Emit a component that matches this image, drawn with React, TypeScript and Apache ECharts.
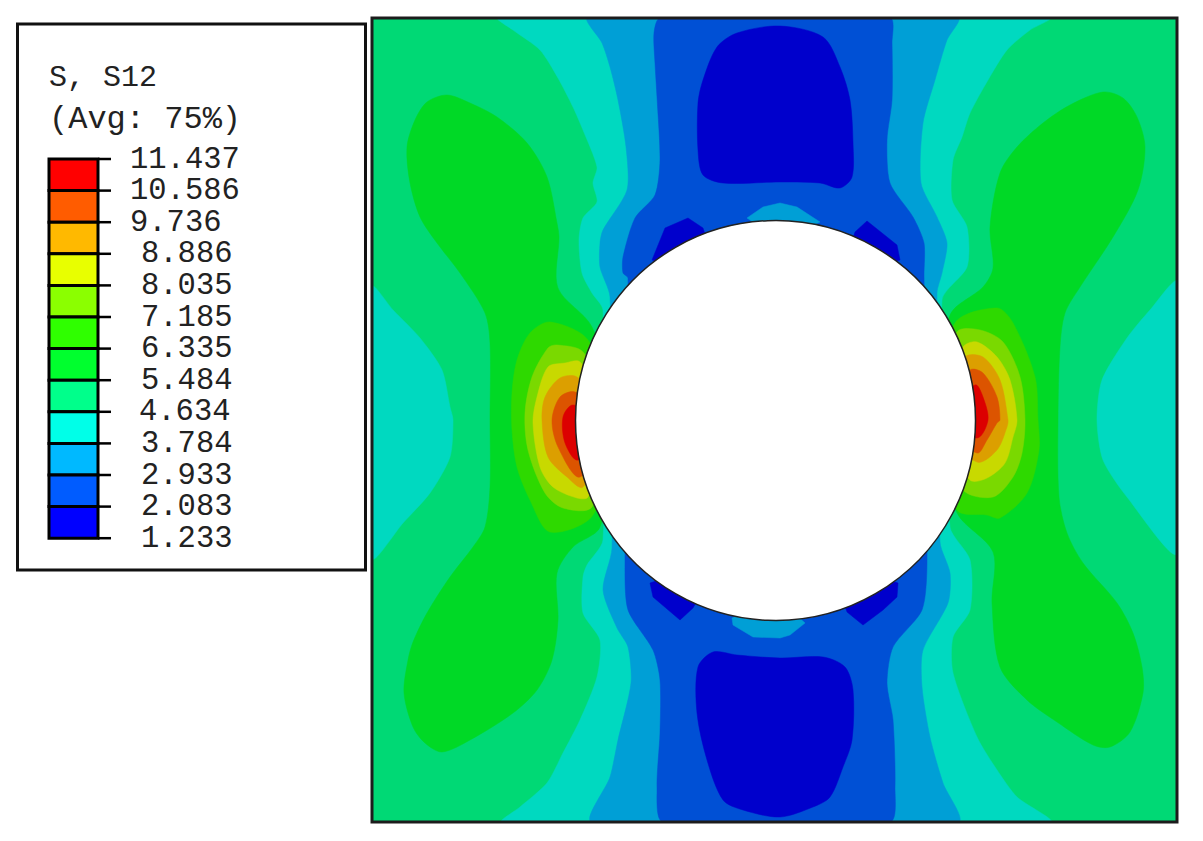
import React, { useEffect, useRef } from "react";
import * as echarts from "echarts";

const legendTitle = ["S, S12", "(Avg: 75%)"];
const legendValues = ["11.437", "10.586", "9.736", "8.886", "8.035", "7.185", "6.335", "5.484", "4.634", "3.784", "2.933", "2.083", "1.233"];
const legendColors = ["#ff0000", "#ff5c00", "#ffb900", "#e8ff00", "#8bff00", "#2fff00", "#00ff2e", "#00ff8b", "#00ffe8", "#00b9ff", "#005cff", "#0000ff"];

// Contour colours on the plate (level name -> fill)
const C = {
  c12: "#dc0000", c11: "#dc5400", c10: "#dc9f00", c9: "#c8d900", c8: "#7ad900", c7: "#2ed900",
  c6: "#00d926", c5: "#00d975", c4: "#00d9c0", c3: "#009fd6", c2: "#0050d5", c1: "#0000cc",
};

type P = number[][];

const plate: P = [[372, 18], [1177, 18], [1177, 822], [372, 822]];

const cyanBand: P = [[498, 18], [513, 30], [540, 50], [558, 78], [573, 107], [583, 130], [597, 167], [593, 183], [597, 202], [583, 218], [579, 240], [582, 273], [592, 293], [603, 310],
  [603, 540], [587, 565], [583, 577], [583, 613], [600, 640], [597, 677], [580, 720], [563, 753], [547, 783], [520, 807], [502, 822],
  [1050, 822], [1017, 797], [997, 770], [977, 737], [953, 673], [953, 637], [970, 610], [970, 560], [950, 527],
  [942, 300], [967, 267], [967, 227], [952, 200], [953, 160], [962, 137], [970, 113], [988, 80], [1007, 50], [1030, 30], [1050, 18]];
const cyanLeft: P = [[372, 287], [393, 310], [420, 338], [442, 370], [450, 407], [453, 420], [450, 457], [430, 493], [403, 523], [372, 558]];
const cyanRight: P = [[1177, 282], [1150, 310], [1127, 338], [1102, 380], [1097, 420], [1103, 460], [1127, 497], [1177, 553]];

const skyBand: P = [[588, 18], [602, 43], [610, 67], [618, 100], [626, 147], [627, 190], [603, 230], [600, 243], [600, 267], [610, 297],
  [612, 548], [603, 590], [617, 628], [628, 647], [631, 683], [618, 740], [610, 777], [592, 822],
  [958, 822], [943, 783], [930, 737], [922, 687], [923, 650], [948, 603], [950, 573], [940, 542],
  [937, 293], [942, 273], [947, 243], [937, 217], [921, 183], [923, 123], [935, 80], [947, 40], [958, 18]];
const skyTop: P = [[747, 218], [763, 207], [780, 203], [797, 207], [820, 222], [780, 240]];
const blueBand: P = [[660, 18], [654, 33], [655, 63], [657, 97], [660, 160], [655, 195], [635, 218], [623, 257], [623, 273], [628, 278],
  [625, 563], [628, 610], [653, 650], [660, 680], [660, 733], [657, 787], [663, 822],
  [890, 822], [895, 787], [893, 720], [887, 683], [893, 647], [922, 610], [927, 562],
  [924, 275], [924, 243], [913, 217], [890, 183], [887, 140], [892, 100], [892, 43], [890, 18]];
const skyBottom: P = [[732, 618], [733, 625], [753, 637], [780, 638], [790, 635], [805, 623], [780, 600]];

const deepTop: P = [[780, 26], [737, 33], [717, 47], [703, 80], [698, 103], [698, 150], [703, 175], [723, 183], [780, 182], [820, 183], [840, 188], [852, 177], [853, 143], [850, 100], [840, 67], [823, 37]];
const deepBottom: P = [[780, 658], [737, 655], [713, 652], [698, 667], [697, 713], [707, 760], [723, 800], [743, 810], [780, 817], [813, 807], [830, 797], [843, 767], [852, 740], [853, 690], [845, 667], [823, 657]];
const deepTL: P = [[652, 260], [665, 228], [688, 218], [703, 228], [720, 280]];
const deepTR: P = [[855, 232], [867, 221], [897, 245], [900, 260], [840, 280]];
const deepBL: P = [[650, 583], [653, 597], [680, 620], [693, 608], [720, 560]];
const deepBR: P = [[847, 612], [863, 625], [883, 610], [897, 597], [898, 583], [830, 560]];

const greenLeft: P = [[447, 95], [427, 102], [415, 120], [407, 147], [410, 183], [420, 217], [437, 243], [460, 273], [485, 313], [490, 343], [490, 420], [490, 487], [485, 527], [473, 547], [450, 577], [427, 613], [413, 642], [408, 660], [404, 693], [413, 727], [425, 743], [442, 752], [470, 740], [513, 713], [537, 690], [552, 660], [558, 620], [557, 573], [573, 547], [600, 527],
  [620, 420], [592, 327], [558, 288], [559, 237], [557, 223], [547, 177], [527, 143], [497, 117], [470, 103]];
const greenRight: P = [[1103, 92], [1123, 98], [1137, 117], [1145, 147], [1138, 190], [1113, 237], [1080, 287], [1065, 313], [1060, 347], [1058, 420], [1059, 497], [1067, 533], [1083, 563], [1117, 603], [1133, 633], [1142, 667], [1143, 693], [1130, 732], [1110, 747], [1093, 745], [1057, 722], [1027, 700], [1000, 667], [992, 603], [993, 552], [957, 513],
  [930, 420], [950, 315], [983, 287], [993, 268], [990, 227], [1000, 173], [1017, 147], [1043, 123], [1070, 105]];

const hotL7: P = [[550, 322], [530, 333], [517, 360], [512, 393], [512, 430], [517, 467], [530, 500], [550, 532], [593, 515], [620, 420], [588, 340]];
const hotL8: P = [[557, 345], [548, 348], [532, 377], [525, 413], [528, 450], [545, 493], [563, 508], [592, 507], [620, 420], [583, 352]];
const hotL9: P = [[580, 362], [565, 363], [548, 367], [537, 397], [533, 423], [540, 467], [553, 487], [577, 498], [588, 497], [620, 420]];
const hotL10: P = [[577, 377], [560, 378], [545, 397], [542, 420], [548, 457], [567, 477], [583, 487], [620, 420]];
const hotL11: P = [[575, 392], [560, 397], [552, 420], [558, 447], [580, 477], [620, 420]];
const hotL12: P = [[573, 405], [563, 417], [565, 443], [578, 460], [620, 420]];

const hotR7: P = [[955, 323], [997, 308], [1013, 323], [1035, 377], [1038, 420], [1039, 450], [1027, 493], [1000, 518], [987, 515], [957, 510], [930, 420]];
const hotR8: P = [[957, 332], [980, 330], [1003, 342], [1020, 377], [1025, 420], [1022, 453], [1013, 477], [993, 497], [963, 490], [930, 420]];
const hotR9: P = [[963, 347], [977, 342], [997, 357], [1010, 380], [1017, 420], [1013, 437], [1005, 463], [987, 478], [970, 480], [930, 420]];
const hotR10: P = [[965, 357], [983, 357], [1000, 380], [1008, 420], [1007, 427], [997, 450], [977, 462], [930, 420]];
const hotR11: P = [[970, 370], [983, 373], [997, 397], [1000, 420], [997, 423], [987, 440], [977, 453], [930, 420]];
const hotR12: P = [[975, 385], [983, 397], [988, 420], [977, 438], [930, 420]];

const hole = { cx: 775.5, cy: 420.5, r: 200 };

// [outline, fill, corner rounding]
const regions: [P, string, number][] = [
  [plate, C.c5, 0],
  [cyanBand, C.c4, 0.25], [cyanLeft, C.c4, 0.25], [cyanRight, C.c4, 0.25],
  [skyBand, C.c3, 0.25],
  [blueBand, C.c2, 0.25],
  [skyTop, C.c3, 0], [skyBottom, C.c3, 0],
  [deepTop, C.c1, 0.3], [deepBottom, C.c1, 0.3], [deepTL, C.c1, 0], [deepTR, C.c1, 0], [deepBL, C.c1, 0], [deepBR, C.c1, 0],
  [greenLeft, C.c6, 0.3], [greenRight, C.c6, 0.3],
  [hotL7, C.c7, 0.3], [hotL8, C.c8, 0.3], [hotL9, C.c9, 0.3], [hotL10, C.c10, 0.3], [hotL11, C.c11, 0.3], [hotL12, C.c12, 0.3],
  [hotR7, C.c7, 0.3], [hotR8, C.c8, 0.3], [hotR9, C.c9, 0.3], [hotR10, C.c10, 0.3], [hotR11, C.c11, 0.3], [hotR12, C.c12, 0.3],
];

const FONT = '"Liberation Mono", "DejaVu Sans Mono", monospace';

function buildLegend() {
  const barX = 49, barW = 49, top = 159, step = 31.6, tickEnd = 111;
  const els: any[] = [
    { type: "rect", shape: { x: 17.5, y: 24, width: 348, height: 546 }, style: { fill: "#fff", stroke: "#111", lineWidth: 3 } },
  ];
  legendTitle.forEach((t, i) => {
    els.push({ type: "text", x: 49, y: 78 + i * 41, style: { text: t, font: `${i === 0 ? 30 : 32}px ${FONT}`, fill: "#222", textVerticalAlign: "middle", textAlign: "left" } });
  });
  legendColors.forEach((c, i) => {
    els.push({ type: "rect", shape: { x: barX, y: top + i * step, width: barW, height: step }, style: { fill: c, stroke: "#000", lineWidth: 3 } });
  });
  legendValues.forEach((v, i) => {
    const y = top + i * step;
    els.push({ type: "line", shape: { x1: barX + barW, y1: y, x2: tickEnd, y2: y }, style: { stroke: "#000", lineWidth: 2.5 } });
    const x = i < 3 ? 130 : v === "4.634" ? 139 : 141;
    els.push({ type: "text", x, y: y + 0.5, style: { text: v, font: `30.5px ${FONT}`, fill: "#222", textVerticalAlign: "middle", textAlign: "left" } });
  });
  return els;
}

export default function App() {
  const ref = useRef<HTMLDivElement>(null);
  useEffect(() => {
    document.body.style.margin = "0";
    const chart = echarts.init(ref.current!, null, { renderer: "svg" });
    chart.setOption({
      animation: false,
      backgroundColor: "#fff",
      grid: { left: 372, right: 26, top: 18, bottom: 19 },
      xAxis: { type: "value", min: 372, max: 1177, show: false },
      yAxis: { type: "value", min: 18, max: 822, inverse: true, show: false },
      tooltip: { show: false },
      graphic: buildLegend(),
      series: [
        {
          type: "custom",
          coordinateSystem: "cartesian2d",
          silent: true,
          clip: true,
          data: regions.map((_, i) => [i]),
          encode: { x: [], y: [] },
          renderItem: (_p: any, api: any) => {
            const [pts, fill, smooth] = regions[api.value(0)];
            return {
              type: "polygon",
              shape: { points: pts.map((q) => api.coord(q)), smooth },
              style: { fill, stroke: fill, lineWidth: 0.5 },
            };
          },
        },
        {
          type: "custom",
          coordinateSystem: "cartesian2d",
          silent: true,
          clip: false,
          data: [[hole.cx, hole.cy, hole.r]],
          encode: { x: 0, y: 1 },
          renderItem: (_p: any, api: any) => {
            const c = api.coord([api.value(0), api.value(1)]);
            const e = api.coord([api.value(0) + api.value(2), api.value(1)]);
            return {
              type: "circle",
              shape: { cx: c[0], cy: c[1], r: e[0] - c[0] },
              style: { fill: "#fff", stroke: "#222", lineWidth: 1.5 },
            };
          },
        },
        {
          type: "custom",
          coordinateSystem: "cartesian2d",
          silent: true,
          clip: false,
          data: [[0]],
          encode: { x: [], y: [] },
          renderItem: (_p: any, api: any) => ({
            type: "polygon",
            shape: { points: plate.map((q) => api.coord(q)) },
            style: { fill: "none", stroke: "#1c1c1c", lineWidth: 3 },
          }),
        },
      ],
    });
    return () => chart.dispose();
  }, []);
  return <div ref={ref} style={{ width: 1203, height: 841 }} />;
}
